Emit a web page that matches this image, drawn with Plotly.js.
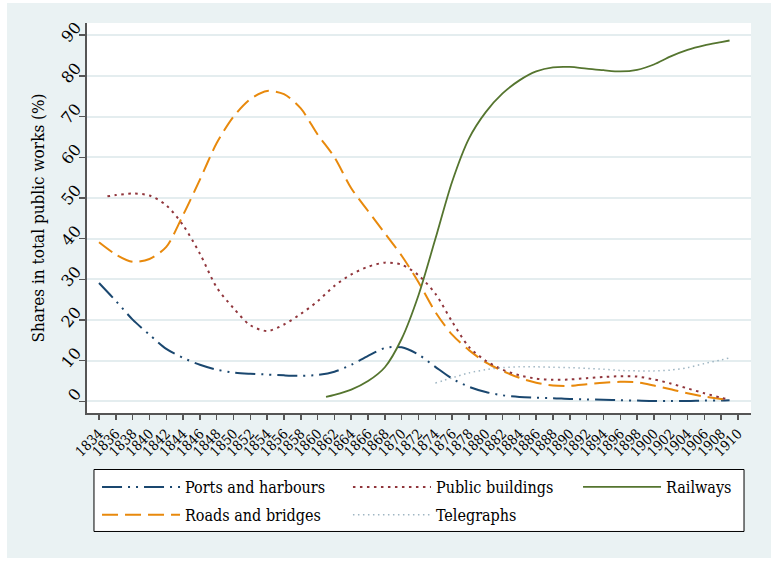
<!DOCTYPE html>
<html>
<head>
<meta charset="utf-8">
<script src="https://cdn.plot.ly/plotly-3.0.1.min.js"></script>
<style>
  body { margin: 0; background: #ffffff; }
  #chart { position: absolute; left: 7px; top: 3px; width: 764px; height: 555px; }
</style>
</head>
<body>
<div id="chart"></div>
<script>
// years and shares (every two years, last point 1909)
const yearsMain = [1834, 1836, 1838, 1840, 1842, 1844, 1846, 1848, 1850, 1852, 1854, 1856, 1858, 1860,
  1862, 1864, 1866, 1868, 1870, 1872, 1874, 1876, 1878, 1880, 1882, 1884, 1886, 1888, 1890, 1892,
  1894, 1896, 1898, 1900, 1902, 1904, 1906, 1908, 1909];
const yearsPublic = [1835, 1836, 1838, 1840, 1842, 1844, 1846, 1848, 1850, 1852, 1854, 1856, 1858, 1860,
  1862, 1864, 1866, 1868, 1870, 1872, 1874, 1876, 1878, 1880, 1882, 1884, 1886, 1888, 1890, 1892,
  1894, 1896, 1898, 1900, 1902, 1904, 1906, 1908, 1909];
const yearsRail = [1861, 1862, 1864, 1866, 1868, 1870, 1872, 1874, 1876, 1878, 1880, 1882, 1884, 1886,
  1888, 1890, 1892, 1894, 1896, 1898, 1900, 1902, 1904, 1906, 1908, 1909];
const yearsTele = [1874, 1876, 1878, 1880, 1882, 1884, 1886, 1888, 1890, 1892, 1894, 1896, 1898, 1900,
  1902, 1904, 1906, 1908, 1909];

const ports = [29.1, 24.7, 20.1, 16.4, 12.9, 10.7, 9.0, 7.8, 7.1, 6.8, 6.6, 6.4, 6.3, 6.5,
  7.3, 9.0, 11.2, 13.1, 13.3, 11.5, 8.5, 5.6, 3.6, 2.3, 1.5, 1.1, 0.9, 0.8, 0.6, 0.5,
  0.4, 0.3, 0.2, 0.1, 0.1, 0.1, 0.2, 0.2, 0.3];
const roads = [39.1, 36.1, 34.3, 35.0, 38.0, 45.8, 54.5, 63.5, 70.0, 74.3, 76.3, 75.5, 72.0, 65.6,
  60.0, 52.4, 46.8, 41.3, 35.8, 29.3, 22.0, 16.4, 12.6, 9.6, 7.5, 5.8, 4.6, 3.9, 3.8, 4.2,
  4.6, 4.8, 4.7, 3.9, 3.0, 2.0, 1.2, 0.6, 0.3];
const publicBuildings = [50.4, 50.7, 51.1, 50.6, 48.2, 43.3, 36.3, 28.0, 22.9, 18.7, 17.3, 18.9, 21.5, 24.6,
  28.4, 31.2, 33.1, 34.1, 33.6, 31.0, 26.5, 19.6, 13.4, 10.0, 7.8, 6.4, 5.6, 5.3, 5.4, 5.7,
  6.0, 6.2, 6.1, 5.4, 4.4, 3.2, 2.0, 0.9, 0.4];
const railways = [1.1, 1.6, 2.9, 5.0, 8.4, 15.4, 26.1, 39.9, 54.0, 64.6, 71.1, 75.7, 78.9, 81.1,
  82.1, 82.2, 81.8, 81.4, 81.1, 81.5, 82.8, 84.8, 86.4, 87.5, 88.3, 88.7];
const telegraphs = [4.5, 5.8, 7.0, 7.8, 8.3, 8.5, 8.5, 8.4, 8.3, 8.1, 7.9, 7.6, 7.5, 7.5,
  7.7, 8.3, 9.3, 10.2, 10.7];

const xTicks = [];
for (let y = 1834; y <= 1910; y += 2) xTicks.push(y);
const yTicks = [0, 10, 20, 30, 40, 50, 60, 70, 80, 90];

const serif = 'DejaVu Serif';
const serifNarrow = 'DejaVu Serif Condensed, DejaVu Serif';
const bg = '#EAF2F3';

// each trace in its own legendgroup so tracegroupgap spaces the two rows
function line(name, x, y, color, dash, width, legendId) {
  return {
    type: 'scatter', mode: 'lines', name: name, x: x, y: y,
    line: {color: color, dash: dash, width: width, shape: 'spline', smoothing: 0.8},
    legend: legendId, legendgroup: name, hoverinfo: 'skip'
  };
}

const traces = [
  line('Ports and harbours', yearsMain, ports, '#1a476f', '20px,6px,2px,6px,2px,6px', 2, 'legend'),
  line('Roads and bridges', yearsMain, roads, '#e8890c', '16px,7px', 2, 'legend'),
  line('Public buildings', yearsPublic, publicBuildings, '#90353b', '2.5px,4.5px', 2, 'legend2'),
  line('Telegraphs', yearsTele, telegraphs, '#9fb6c3', '1.5px,3.5px', 1.5, 'legend2'),
  line('Railways', yearsRail, railways, '#55752f', 'solid', 1.8, 'legend3')
];

const legendBase = {
  orientation: 'v', xanchor: 'left', yanchor: 'top', y: -0.1462,
  bgcolor: 'rgba(0,0,0,0)', borderwidth: 0, itemwidth: 78, tracegroupgap: 4,
  font: {family: serifNarrow, size: 16, color: '#000'}
};

const layout = {
  width: 764, height: 555,
  margin: {l: 80, r: 20, t: 20, b: 145},
  paper_bgcolor: bg, plot_bgcolor: '#ffffff',
  font: {family: serif, color: '#000'},
  showlegend: true,
  legend: Object.assign({}, legendBase, {x: 0.0151}),
  legend2: Object.assign({}, legendBase, {x: 0.393}),
  legend3: Object.assign({}, legendBase, {x: 0.7395}),
  shapes: [{
    type: 'rect', xref: 'paper', yref: 'paper',
    x0: 0.0105, x1: 0.9895, y0: -0.3038, y1: -0.1449,
    fillcolor: '#ffffff', line: {color: '#000', width: 1}
  }],
  xaxis: {
    range: [1832.57, 1911.55], tickmode: 'array', tickvals: xTicks,
    ticktext: xTicks.map(String), tickangle: -45,
    tickfont: {family: serifNarrow, size: 14, color: '#000'},
    showgrid: false, zeroline: false, showline: true, linecolor: '#555', linewidth: 2,
    ticks: 'outside', ticklen: 5, tickcolor: '#555', tickwidth: 1.5
  },
  yaxis: {
    range: [-2.85, 93.0], tickmode: 'array', tickvals: yTicks,
    ticktext: yTicks.map(String), tickangle: -50, ticklabelshift: -10,
    tickfont: {family: serif, size: 16, color: '#000'},
    showgrid: true, gridcolor: '#E4EDEF', gridwidth: 2, zeroline: false,
    showline: true, linecolor: '#555', linewidth: 2,
    ticks: 'outside', ticklen: 6, tickcolor: '#555', tickwidth: 1.5,
    title: {text: 'Shares in total public works (%)', font: {family: serifNarrow, size: 17, color: '#000'}, standoff: 8}
  }
};

Plotly.newPlot('chart', traces, layout, {displayModeBar: false, staticPlot: true});
</script>
</body>
</html>
